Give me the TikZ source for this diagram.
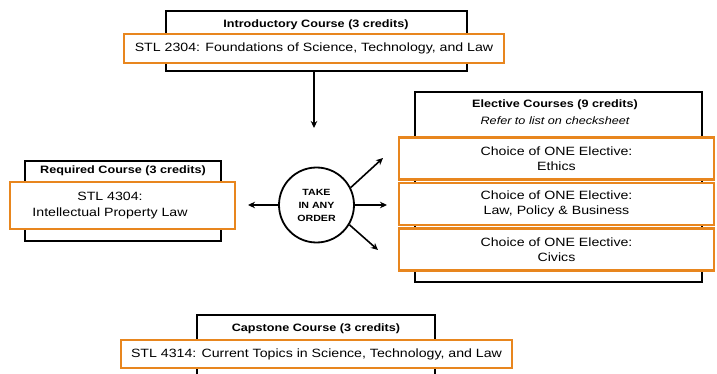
\documentclass[tikz,border=0pt]{standalone}
\usepackage{fontspec}
\setmainfont{Liberation Sans}[FakeStretch=1.18]
\usetikzlibrary{arrows.meta}
\definecolor{vtorange}{RGB}{232,134,30}
\begin{document}
\begin{tikzpicture}[x=1pt,y=-1pt,
  blk/.style={draw=black,line width=1.8pt,fill=white,inner sep=0pt},
  org/.style={draw=vtorange,line width=2.6pt,fill=white,inner sep=0pt},
  ttl/.style={font=\bfseries\fontsize{10.7}{12}\selectfont,inner sep=0pt},
  sub/.style={font=\itshape\fontsize{10.7}{12}\selectfont,inner sep=0pt},
  crs/.style={font=\fontsize{12}{15.5}\selectfont,align=center,inner sep=0pt},
  arr/.style={line width=1.6pt,-{Stealth[length=7pt,width=6.5pt]}}]
\useasboundingbox (0,0) rectangle (717,374);
\clip (0,0) rectangle (717,374);
% Introductory
\node[blk,minimum width=301,minimum height=60] (introbox) at (316.5,41) {};
\node[ttl] (introttl) at (316,25) {Introductory Course (3 credits)};
\node[org,minimum width=380,minimum height=29] (introcrs) at (314,48.5) {};
\node[crs] (introtxt) at (314,48.5) {STL 2304: Foundations of Science, Technology, and Law};
\coordinate (introend) at (314,128);
\draw[arr] (introend |- introbox.south) -- (introend);
% Required
\node[blk,minimum width=196,minimum height=80] (reqbox) at (123,201) {};
\node[ttl] (reqttl) at (123,171) {Required Course (3 credits)};
\node[org,minimum width=225,minimum height=47] (reqcrs) at (122.5,205.5) {};
\node[crs] (reqtxt) at (110,205.5) {STL 4304:\\Intellectual Property Law};
% Circle
\node[draw,circle,line width=1.8pt,minimum size=75,inner sep=0pt,
      font=\bfseries\fontsize{9}{13}\selectfont,align=center] (order) at (316.5,205) {TAKE\\IN ANY\\ORDER};
\coordinate (leftend) at (248,205);
\coordinate (rightend) at (387,205);
\coordinate (upend) at (383,158);
\coordinate (downend) at (378,250);
\draw[arr] (order.west) -- (leftend);
\draw[arr] (order.east) -- (rightend);
\draw[arr] (order.27) -- (upend);
\draw[arr] (order.-31) -- (downend);
% Electives
\node[blk,minimum width=287,minimum height=190] (elecbox) at (558.5,187) {};
\node[ttl] (electtl) at (555,105) {Elective Courses (9 credits)};
\node[sub] (elecsub) at (555,121) {Refer to list on checksheet};
\node[org,minimum width=315,minimum height=42] (e1) at (556.5,158.5) {};
\node[org,minimum width=315,minimum height=42] (e2) at (556.5,204) {};
\node[org,minimum width=315,minimum height=42] (e3) at (556.5,249.5) {};
\node[crs] (e1txt) at (556.5,158.5) {Choice of ONE Elective:\\Ethics};
\node[crs] (e2txt) at (556.5,204) {Choice of ONE Elective:\\Law, Policy \& Business};
\node[crs] (e3txt) at (556.5,249.5) {Choice of ONE Elective:\\Civics};
% Capstone
\node[blk,minimum width=238,minimum height=80] (capbox) at (316,355) {};
\node[ttl] (capttl) at (316,329) {Capstone Course (3 credits)};
\node[org,minimum width=391,minimum height=28] (capcrs) at (316.5,354) {};
\node[crs] (captxt) at (316.5,354) {STL 4314: Current Topics in Science, Technology, and Law};
\end{tikzpicture}
\end{document}
